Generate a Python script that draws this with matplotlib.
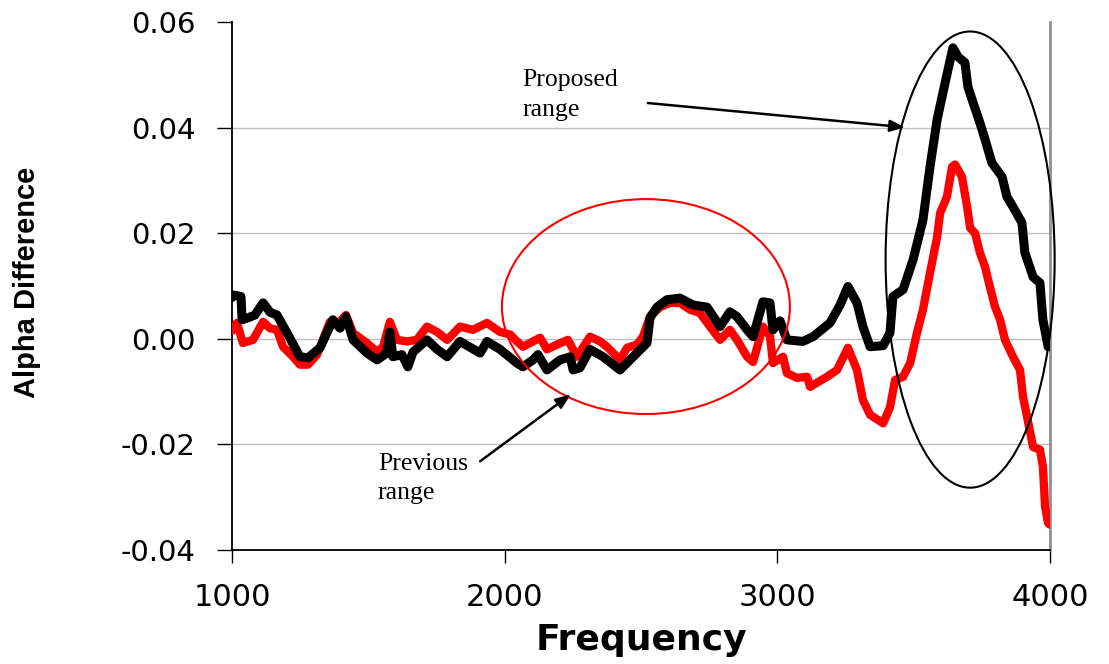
import matplotlib
matplotlib.use("Agg")
import matplotlib.pyplot as plt
from matplotlib.patches import Ellipse
from matplotlib.ticker import FormatStrFormatter

# values
proposed_freq = [1000, 1004, 1033, 1037, 1060, 1084, 1114, 1140, 1165, 1202, 1249, 1279,
                 1323, 1370, 1396, 1418, 1444, 1495, 1532, 1568, 1579, 1590, 1623, 1645,
                 1664, 1715, 1752, 1789, 1836, 1910, 1935, 1983, 2045, 2067, 2104, 2122,
                 2155, 2203, 2240, 2251, 2276, 2313, 2361, 2423, 2485, 2522, 2533, 2559,
                 2595, 2643, 2691, 2742, 2790, 2826, 2852, 2889, 2911, 2947, 2973, 2984,
                 3010, 3035, 3094, 3131, 3193, 3230, 3259, 3292, 3314, 3340, 3388, 3413,
                 3424, 3461, 3498, 3534, 3560, 3586, 3604, 3626, 3644, 3663, 3688, 3699,
                 3718, 3743, 3762, 3787, 3824, 3842, 3864, 3897, 3908, 3938, 3963, 3974,
                 3993, 4000]
proposed_diff = [0.0078, 0.0083, 0.0080, 0.0036, 0.0040, 0.0045, 0.0068, 0.0050, 0.0045,
                 0.0011, -0.0034, -0.0036, -0.0017, 0.0036, 0.0020, 0.0042, -0.0002,
                 -0.0027, -0.0040, -0.0027, 0.0013, -0.0034, -0.0030, -0.0053, -0.0025,
                 -0.0002, -0.0020, -0.0034, -0.0005, -0.0027, -0.0005, -0.0020, -0.0046,
                 -0.0053, -0.0040, -0.0030, -0.0059, -0.0040, -0.0034, -0.0059, -0.0055,
                 -0.0020, -0.0034, -0.0059, -0.0027, -0.0008, 0.0040, 0.0060, 0.0074,
                 0.0077, 0.0064, 0.0060, 0.0023, 0.0051, 0.0042, 0.0017, 0.0004, 0.0070,
                 0.0068, 0.0017, 0.0034, -0.0002, -0.0005, 0.0004, 0.0030, 0.0064, 0.0099,
                 0.0068, 0.0023, -0.0015, -0.0013, 0.0011, 0.0080, 0.0093, 0.0150, 0.0225,
                 0.0326, 0.0415, 0.0458, 0.0510, 0.0551, 0.0534, 0.0523, 0.0477, 0.0447,
                 0.0409, 0.0377, 0.0333, 0.0307, 0.0269, 0.0250, 0.0220, 0.0163, 0.0117,
                 0.0106, 0.0036, -0.0015, -0.0015]

previous_freq = [1000, 1018, 1040, 1077, 1114, 1139, 1165, 1187, 1224, 1249, 1279, 1312,
                 1359, 1385, 1418, 1444, 1495, 1532, 1554, 1579, 1605, 1642, 1678, 1715,
                 1752, 1789, 1836, 1884, 1935, 1983, 2020, 2045, 2067, 2130, 2155, 2192,
                 2232, 2265, 2313, 2350, 2375, 2423, 2449, 2485, 2507, 2533, 2570, 2606,
                 2643, 2680, 2716, 2753, 2790, 2826, 2852, 2889, 2911, 2947, 2973, 2984,
                 3021, 3035, 3072, 3109, 3120, 3182, 3219, 3259, 3292, 3314, 3340, 3388,
                 3413, 3432, 3461, 3487, 3512, 3534, 3560, 3586, 3597, 3622, 3641, 3652,
                 3677, 3696, 3707, 3725, 3743, 3762, 3773, 3798, 3817, 3835, 3864, 3890,
                 3901, 3916, 3938, 3963, 3974, 3982, 3993, 4000]
previous_diff = [0.0015, 0.0030, -0.0008, -0.0002, 0.0032, 0.0020, 0.0017, -0.0015,
                 -0.0034, -0.0049, -0.0049, -0.0030, 0.0032, 0.0027, 0.0045, 0.0011,
                 -0.0008, -0.0025, -0.0015, 0.0032, -0.0002, -0.0005, -0.0002, 0.0023,
                 0.0013, -0.0002, 0.0023, 0.0017, 0.0030, 0.0013, 0.0008, -0.0005,
                 -0.0015, 0.0002, -0.0020, -0.0011, -0.0002, -0.0034, 0.0004, -0.0005,
                 -0.0015, -0.0040, -0.0017, -0.0011, 0.0004, 0.0042, 0.0060, 0.0068,
                 0.0068, 0.0055, 0.0049, 0.0023, -0.0002, 0.0017, -0.0002, -0.0034,
                 -0.0044, 0.0023, 0.0005, -0.0046, -0.0034, -0.0065, -0.0074, -0.0072,
                 -0.0091, -0.0072, -0.0059, -0.0017, -0.0059, -0.0116, -0.0144, -0.0160,
                 -0.0130, -0.0078, -0.0072, -0.0046, 0.0011, 0.0055, 0.0125, 0.0193,
                 0.0238, 0.0269, 0.0326, 0.0330, 0.0307, 0.0250, 0.0210, 0.0200, 0.0163,
                 0.0136, 0.0112, 0.0061, 0.0036, -0.0002, -0.0034, -0.0059, -0.0110,
                 -0.0148, -0.0205, -0.0210, -0.0242, -0.0318, -0.0349, -0.0352]

x_ticks = [1000, 2000, 3000, 4000]
y_ticks = [-0.04, -0.02, 0.00, 0.02, 0.04, 0.06]

fig = plt.figure(figsize=(11.09, 6.64), dpi=100)
ax = fig.add_axes([0.2092, 0.1717, 0.7376, 0.7952])

ax.plot(previous_freq, previous_diff, color="#ff0000", lw=6, solid_joinstyle="round",
        solid_capstyle="round", zorder=3)
ax.plot(proposed_freq, proposed_diff, color="black", lw=6.5, solid_joinstyle="round",
        solid_capstyle="round", zorder=4)

# highlighted regions
ax.add_patch(Ellipse((2518, 0.0061), 1056, 0.0407, fill=False, ec="#ff0000", lw=1.5,
                     zorder=5))
ax.add_patch(Ellipse((3707, 0.0150), 620, 0.0864, fill=False, ec="black", lw=1.5,
                     zorder=5, clip_on=False))

ax.annotate("", xy=(3479, 0.0400), xytext=(2515, 0.0447),
            arrowprops=dict(arrowstyle="-|>,head_length=0.9,head_width=0.35",
                            color="black", lw=1.8), zorder=6)
ax.annotate("", xy=(2251, -0.0102), xytext=(1902, -0.0235),
            arrowprops=dict(arrowstyle="-|>,head_length=0.9,head_width=0.35",
                            color="black", lw=1.8), zorder=6)
ax.text(2064, 0.0510, "Proposed\nrange", family="Liberation Serif", fontsize=18.5,
        va="top", ha="left", linespacing=1.45)
ax.text(1535, -0.0216, "Previous\nrange", family="Liberation Serif", fontsize=18.5,
        va="top", ha="left", linespacing=1.45)

ax.set_xlim(1000, 4000)
ax.set_ylim(-0.04, 0.06)
ax.set_xticks(x_ticks)
ax.set_yticks(y_ticks)
ax.yaxis.set_major_formatter(FormatStrFormatter("%.2f"))

ax.yaxis.grid(True, color="#c0c0c0", lw=1)
ax.get_ygridlines()[-1].set_visible(False)
ax.get_ygridlines()[0].set_visible(False)
ax.set_axisbelow(True)

ax.spines["top"].set_visible(False)
ax.spines["right"].set_color("#909090")
ax.spines["right"].set_linewidth(2)
ax.spines["left"].set_linewidth(1.3)
ax.spines["bottom"].set_linewidth(1.3)

ax.tick_params(axis="y", direction="out", length=11, width=1, pad=15,
               labelsize=21)
ax.tick_params(axis="x", direction="out", length=9, width=1, pad=15,
               labelsize=22)
for lab in ax.get_xticklabels() + ax.get_yticklabels():
    lab.set_family("DejaVu Sans")

ax.set_xlabel("Frequency", family="DejaVu Sans", fontsize=26, fontweight="bold",
              labelpad=8)
fig.text(0.024, 0.574, "Alpha Difference", family="Liberation Sans", fontsize=21,
         fontweight="bold", rotation=90, ha="center", va="center")

fig.savefig("out.png", dpi=100)
